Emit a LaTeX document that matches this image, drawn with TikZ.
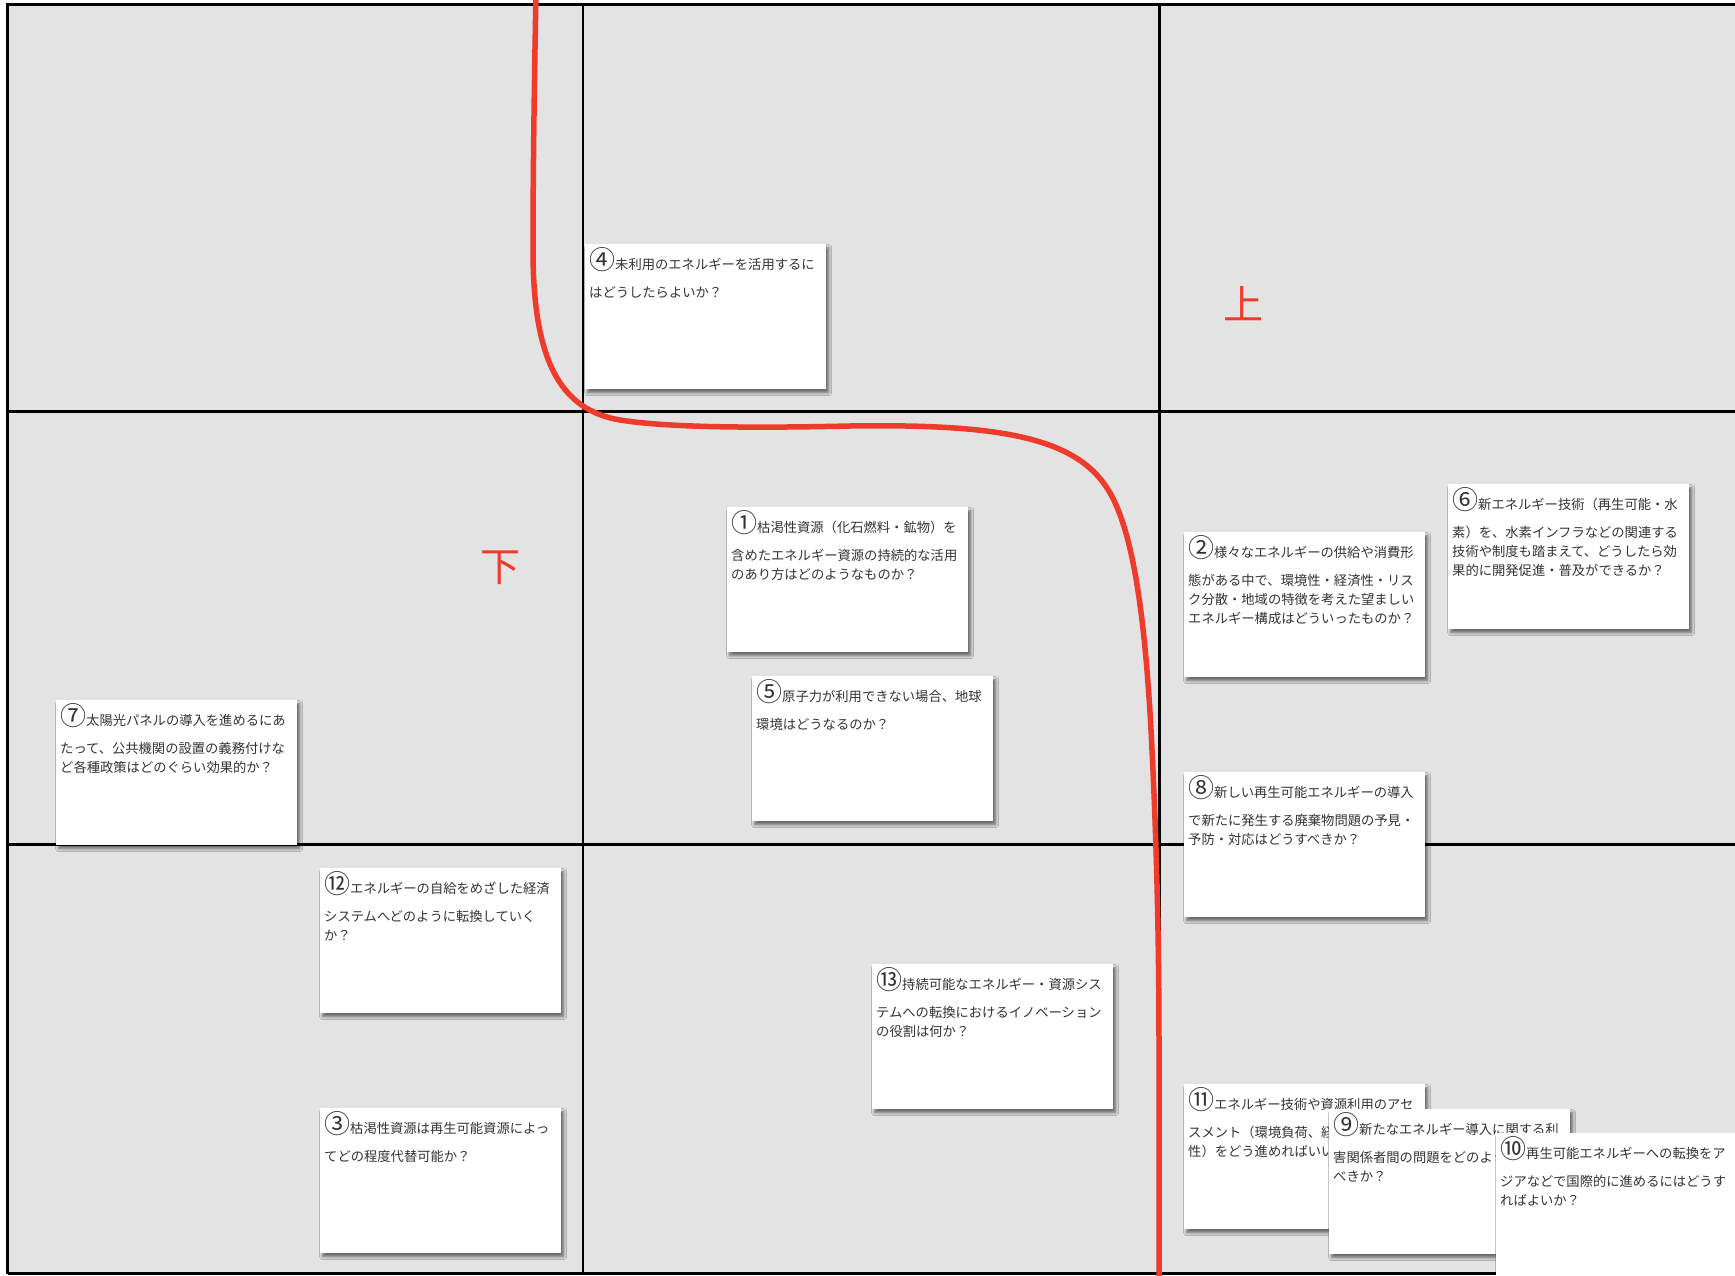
\documentclass[tikz,border=0pt]{standalone}
\usepackage{fontspec}
\newfontfamily\jp{Noto Sans CJK JP}
\usetikzlibrary{shadows.blur}
\definecolor{gridbg}{HTML}{E3E3E3}
\definecolor{redc}{HTML}{EE3B2C}
\definecolor{txt}{HTML}{333333}
\newcommand\cnum[1]{{\fontsize{26}{26}\selectfont #1}}
\newcommand\fl{\rule{0pt}{24pt}}
\tikzset{
  gridline/.style={line width=2.4pt, black},
  redcurve/.style={line width=5.5pt, redc, line cap=round},
  stickybox/.style={fill=white, draw=none, anchor=north west, inner sep=0pt,
    minimum width=241pt, minimum height=145pt,
    blur shadow={shadow xshift=2.5pt, shadow yshift=-3.5pt, shadow blur radius=3pt, shadow opacity=55}},
  stickytext/.style={anchor=north west, inner sep=0pt, align=left, text=txt,
    font=\jp\fontsize{13.3}{19}\selectfont},
  bigred/.style={text=redc, font=\jp\fontsize{40}{40}\selectfont, inner sep=0pt}
}
\newcommand\sticky[4]{%
  \node[stickybox] (s#1) at (#2,#3) {};
  \node[stickytext] (t#1) at ([shift={(4pt,-1.5pt)}]s#1.north west) {#4};
}
\begin{document}
\begin{tikzpicture}[x=1pt,y=-1pt]
\useasboundingbox (0,0) rectangle (1735,1276);
\clip (0,0) rectangle (1735,1276);
% grid
\fill[gridbg] (7.5,4.5) rectangle (1745,1273.6);
\draw[gridline] (7.5,1273.6) -- (7.5,4.5) -- (1745,4.5);
\draw[gridline] (7.5,1273.6) -- (1745,1273.6);
\draw[gridline] (7.5,411.6) -- (1745,411.6);
\draw[gridline] (7.5,844.3) -- (1745,844.3);
\draw[gridline] (583,4.5) -- (583,1273.6);
\draw[gridline] (1159.6,4.5) -- (1159.6,1273.6);
% red curve
\draw[redcurve] (536,-8) .. controls (534,100) and (533,180) .. (533,250)
  .. controls (533,360) and (560,410) .. (620,420)
  .. controls (670,428) and (760,428) .. (850,426)
  .. controls (990,424) and (1070,435) .. (1105,485)
  .. controls (1130,520) and (1145,600) .. (1152,750)
  .. controls (1157,850) and (1159,950) .. (1159,1050) -- (1159,1290);
% labels
\node[bigred] (up) at (1243,304) {上};
\node[bigred] (down) at (500,568) {下};
% stickies
\sticky{4}{585}{244}{\fl\cnum{④}未利用のエネルギーを活用するに\\[8.5pt]はどうしたらよいか？}
\sticky{1}{727}{507}{\fl\cnum{①}枯渇性資源（化石燃料・鉱物）を\\[8.5pt]含めたエネルギー資源の持続的な活用\\のあり方はどのようなものか？}
\sticky{5}{752}{676}{\fl\cnum{⑤}原子力が利用できない場合、地球\\[8.5pt]環境はどうなるのか？}
\sticky{2}{1184}{532}{\fl\cnum{②}様々なエネルギーの供給や消費形\\[8.5pt]態がある中で、環境性・経済性・リス\\ク分散・地域の特徴を考えた望ましい\\エネルギー構成はどういったものか？}
\sticky{6}{1448}{484}{\fl\cnum{⑥}新エネルギー技術（再生可能・水\\[8.5pt]素）を、水素インフラなどの関連する\\技術や制度も踏まえて、どうしたら効\\果的に開発促進・普及ができるか？}
\sticky{7}{56}{700}{\fl\cnum{⑦}太陽光パネルの導入を進めるにあ\\[8.5pt]たって、公共機関の設置の義務付けな\\ど各種政策はどのぐらい効果的か？}
\sticky{8}{1184}{772}{\fl\cnum{⑧}新しい再生可能エネルギーの導入\\[8.5pt]で新たに発生する廃棄物問題の予見・\\予防・対応はどうすべきか？}
\sticky{12}{320}{868}{\fl\cnum{⑫}エネルギーの自給をめざした経済\\[8.5pt]システムへどのように転換していく\\か？}
\sticky{13}{872}{964}{\fl\cnum{⑬}持続可能なエネルギー・資源シス\\[8.5pt]テムへの転換におけるイノベーション\\の役割は何か？}
\sticky{3}{320}{1108}{\fl\cnum{③}枯渇性資源は再生可能資源によっ\\[8.5pt]てどの程度代替可能か？}
\sticky{11}{1184}{1084}{\fl\cnum{⑪}エネルギー技術や資源利用のアセ\\[8.5pt]スメント（環境負荷、経済性、社会受容\\性）をどう進めればいいか？}
\sticky{9}{1329}{1109}{\fl\cnum{⑨}新たなエネルギー導入に関する利\\[8.5pt]害関係者間の問題をどのように解決す\\べきか？}
\sticky{10}{1496}{1133}{\fl\cnum{⑩}再生可能エネルギーへの転換をア\\[8.5pt]ジアなどで国際的に進めるにはどうす\\ればよいか？}
\end{tikzpicture}
\end{document}
